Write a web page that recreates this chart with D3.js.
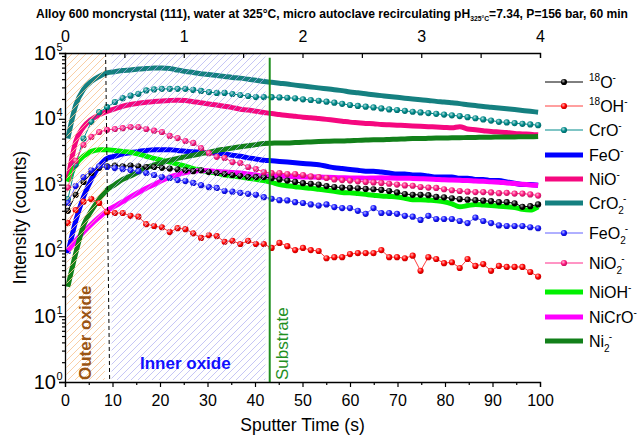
<!DOCTYPE html>
<html><head><meta charset="utf-8">
<script src="https://cdn.jsdelivr.net/npm/d3@7"></script>
<style>
body{margin:0;background:#fff}
svg{display:block}
text{font-family:Arial,"Liberation Sans",sans-serif}
</style>
</head><body>
<svg id="c" width="639" height="441"></svg>
<script>
// ---------------- DATA ----------------
const time = [0.6,2.25,3.9,5.55,7.2,8.85,10.5,12.15,13.8,15.45,17.1,18.75,20.4,22.05,23.7,25.35,27,28.65,30.3,31.95,33.6,35.25,36.9,38.55,40.2,41.85,43.5,45.15,46.8,48.45,50.1,51.75,53.4,55.05,56.7,58.35,60,61.65,63.3,64.95,66.6,68.25,69.9,71.55,73.2,74.85,76.5,78.15,79.8,81.45,83.1,84.75,86.4,88.05,89.7,91.35,93,94.65,96.3,97.95,99.6];

const o18   = [400,700,1100,1500,1800,1900,1950,1900,1950,1900,1850,1850,1800,1750,1700,1650,1600,1650,1550,1500,1450,1400,1350,1300,1300,1300,1250,1200,1150,1100,1050,1030,1000,950,920,900,890,880,860,850,830,800,760,720,700,700,690,650,640,620,600,590,580,570,560,540,540,520,460,470,500];
const oh18  = [260,410,550,600,525,380,370,370,335,325,250,235,225,190,218,210,182,155,170,165,135,140,125,140,125,125,109,130,116,101,109,101,98,76,79,79,88,91,91,91,101,79,79,76,83,49,79,74,64,66,54,74,58,62,49,58,56,56,56,47,40];
const cro   = [600,2000,5000,9000,12600,15000,18000,20600,22500,24000,27000,28000,28500,28500,28500,28500,27500,26500,25500,24700,24700,23800,23000,22200,21400,21400,21300,21100,20900,20500,19800,19300,18800,18200,17600,16900,16200,15700,15300,14900,14400,13900,13600,13200,12800,12500,12200,11900,11600,11300,11000,10600,10200,9800,9400,9000,8800,8600,8400,8200,8000];
const feo   = [90,280,650,1200,1900,2500,2700,2900,3050,3200,3300,3400,3400,3400,3300,3200,3150,3100,3050,3000,2900,2800,2700,2550,2450,2350,2300,2250,2200,2150,2100,2050,2000,1900,1800,1750,1700,1650,1600,1600,1550,1500,1450,1450,1400,1400,1350,1300,1300,1300,1250,1250,1200,1200,1150,1150,1100,1050,1000,1000,980];
const nio   = [1200,4500,7500,9800,11500,13000,14200,15500,16500,17200,17800,18300,18700,19000,19200,19000,18200,17500,16800,16200,15500,14800,14000,13600,13000,12500,12000,11600,11200,10900,10600,10400,10100,9800,9500,9200,8900,8700,8500,8400,8200,8100,8000,7900,7800,7700,7600,7500,7400,7300,7600,7000,6800,6600,6400,6300,6200,6000,5900,5800,5700];
const cro2  = [5000,16000,28000,37000,44000,50000,52000,54000,55000,57000,58000,59000,59000,58000,55000,52500,50500,48500,47000,45500,44000,42500,41500,40000,38500,37000,35800,34700,33700,32500,31500,30500,29500,28600,27700,26800,25500,24800,24000,23200,22500,21800,21200,20600,20000,19500,19000,18400,18000,17500,17000,16400,15900,15400,15000,14600,14200,13800,13400,13000,12600];
const feo2  = [525,950,1300,1650,1900,1850,1780,1720,1660,1600,1500,1400,1300,1260,1170,1130,1060,980,915,890,800,780,750,725,700,645,610,580,575,540,525,500,480,500,455,440,440,400,360,440,370,370,360,335,325,290,335,300,300,300,280,260,315,280,260,240,235,235,235,225,217];
const nio2  = [900,2300,4000,5300,6300,6800,7000,7200,7500,7500,7000,6600,6300,5500,5100,4600,4300,3600,3000,2640,2540,2200,2130,1850,1720,1550,1500,1500,1450,1450,1400,1330,1300,1260,1200,1170,1150,1120,1100,1080,1060,1030,1000,970,960,920,900,890,850,820,800,780,770,770,760,740,750,730,730,710,680];
const nioh  = [1100,2000,2700,3200,3400,3400,3300,3200,3100,2900,2700,2500,2350,2200,2050,1900,1750,1650,1550,1500,1400,1350,1300,1250,1200,1150,1080,1000,960,930,900,880,850,820,790,760,750,730,710,690,670,660,650,620,590,590,580,570,550,510,460,480,500,490,480,470,460,450,420,410,460];
const nicro = [100,140,190,250,320,400,470,550,650,760,880,1000,1150,1300,1420,1520,1600,1640,1620,1580,1550,1530,1500,1450,1400,1350,1350,1350,1330,1320,1310,1300,1300,1290,1280,1270,1260,1260,1250,1260,1270,1260,1250,1250,1240,1230,1220,1200,1180,1170,1160,1150,1130,1120,1100,1090,1060,1040,1010,990,980];
const ni2   = [28,90,240,400,600,830,1000,1200,1350,1550,1800,2000,2150,2350,2500,2650,2800,2950,3100,3300,3450,3600,3750,3900,4050,4200,4250,4300,4300,4350,4400,4450,4500,4550,4600,4600,4650,4700,4750,4800,4800,4850,4900,4950,5000,5000,5050,5100,5100,5150,5150,5200,5200,5250,5250,5300,5300,5300,5350,5350,5400];

const xTickValues   = [0,10,20,30,40,50,60,70,80,90,100];
const xMinorValues  = [5,15,25,35,45,55,65,75,85,95];
const topTickValues = [0,0.5,1,1.5,2,2.5,3,3.5,4];
const topLabels     = [0,1,2,3,4];
const yDecades      = [0,1,2,3,4,5];

// region annotations (sputter time, s)
const outerRange   = [0.3, 8.4];
const innerRange   = [9.8, 42.2];
const interfaceT   = [8.55, 9.4];   // dashed line (top, bottom)
const substrateT   = 43.1;

const titleMain = "Alloy 600 moncrystal (111), water at 325°C, micro autoclave recirculating pH";
const titleSub  = "325°C";
const titleEnd  = "=7.34, P=156 bar, 60 min";

// ---------------- SERIES STYLE ----------------
const series = [
  {values:o18,   kind:"thin",  line:"#000000", mark:"#000000", label:[{t:"18",s:"sup"},{t:"O"},{t:"-",s:"sup"}]},
  {values:oh18,  kind:"thin",  line:"#ff4040", mark:"#ff0000", label:[{t:"18",s:"sup"},{t:"OH"},{t:"-",s:"sup"}]},
  {values:cro,   kind:"thin",  line:"#008b8b", mark:"#008b8b", label:[{t:"CrO"},{t:"-",s:"sup"}]},
  {values:feo,   kind:"thick", line:"#0000ff", label:[{t:"FeO"},{t:"-",s:"sup"}]},
  {values:nio,   kind:"thick", line:"#f5087f", label:[{t:"NiO"},{t:"-",s:"sup"}]},
  {values:cro2,  kind:"thick", line:"#158080", label:[{t:"CrO"},{t:"2",s:"sub"},{t:"-",s:"sup",dx:-1}]},
  {values:feo2,  kind:"thin",  line:"#6060ff", mark:"#1515ff", label:[{t:"FeO"},{t:"2",s:"sub"},{t:"-",s:"sup",dx:-1}]},
  {values:nio2,  kind:"thin",  line:"#ff2a8a", mark:"#ff1a80", label:[{t:"NiO"},{t:"2",s:"sub"},{t:"-",s:"sup",dx:-1}]},
  {values:nioh,  kind:"thick", line:"#00f000", label:[{t:"NiOH"},{t:"-",s:"sup"}]},
  {values:nicro, kind:"thick", line:"#ff00ff", label:[{t:"NiCrO"},{t:"-",s:"sup"}]},
  {values:ni2,   kind:"thick", line:"#12801a", label:[{t:"Ni"},{t:"2",s:"sub"},{t:"-",s:"sup",dx:-1}]}
];
const legendRowY = [82,106,130,155,179,203,233,263,292,317,341];

// ---------------- LAYOUT ----------------
const L=65, R=540, T=53, B=382;
const svg = d3.select("#c");
const x = d3.scaleLinear().domain([0,100]).range([L,R]);
const xTop = d3.scaleLinear().domain([0,4]).range([L,R]);
const y = d3.scaleLog().domain([1,1e5]).range([B,T]);

const defs = svg.append("defs");
function hatch(id, color){
  const p = defs.append("pattern").attr("id",id).attr("patternUnits","userSpaceOnUse")
    .attr("width",7).attr("height",7);
  p.append("path").attr("d","M-1,8 L8,-1 M-1,1 L1,-1 M6,8 L8,6")
    .attr("stroke",color).attr("stroke-width",1).attr("fill","none");
}
hatch("hOuter","#f8c596");
hatch("hInner","#aeaef0");

function sphere(id,color){
  const g = defs.append("radialGradient").attr("id",id).attr("cx","38%").attr("cy","35%").attr("r","65%");
  g.append("stop").attr("offset","0%").attr("stop-color",d3.interpolateRgb(color,"#ffffff")(0.7));
  g.append("stop").attr("offset","55%").attr("stop-color",color);
  g.append("stop").attr("offset","100%").attr("stop-color",d3.interpolateRgb(color,"#000000")(0.25));
}
series.forEach((s,i)=>{ if(s.kind==="thin") sphere("sp"+i, s.mark); });

// ---------------- CURVES ----------------
const gCurves = svg.append("g");
const thickLine = d3.line().x(d=>x(d[0])).y(d=>y(d[1])).curve(d3.curveMonotoneX);
const thinLine  = d3.line().x(d=>x(d[0])).y(d=>y(d[1]));

series.forEach((s,i)=>{
  if(s.kind!=="thick") return;
  const pts = time.map((t,k)=>[t,s.values[k]]);
  gCurves.append("path").attr("d",thickLine(pts)).attr("fill","none")
    .attr("stroke",s.line).attr("stroke-width",5).attr("stroke-linejoin","round");
});
series.forEach((s,i)=>{
  if(s.kind!=="thin") return;
  const pts = time.map((t,k)=>[t,s.values[k]]);
  gCurves.append("path").attr("d",thinLine(pts)).attr("fill","none")
    .attr("stroke",s.line).attr("stroke-width",1);
  gCurves.append("g").selectAll("circle").data(pts).join("circle")
    .attr("cx",d=>x(d[0])).attr("cy",d=>y(d[1])).attr("r",3.1)
    .attr("fill","url(#sp"+i+")");
});

// ---------------- REGIONS ----------------
svg.append("rect").attr("x",x(outerRange[0])).attr("y",T).attr("width",x(outerRange[1])-x(outerRange[0]))
  .attr("height",B-2-T).attr("fill","url(#hOuter)").attr("opacity",0.85);
svg.append("rect").attr("x",x(innerRange[0])).attr("y",T).attr("width",x(innerRange[1])-x(innerRange[0]))
  .attr("height",B-2-T).attr("fill","url(#hInner)").attr("opacity",0.7);
svg.append("line").attr("x1",x(interfaceT[0])).attr("y1",T).attr("x2",x(interfaceT[1])).attr("y2",B)
  .attr("stroke","#000").attr("stroke-width",1).attr("stroke-dasharray","4,3");
svg.append("line").attr("x1",x(substrateT)).attr("x2",x(substrateT)).attr("y1",y(8.5e4)).attr("y2",B)
  .attr("stroke","#1f8f1f").attr("stroke-width",2);

svg.append("text").attr("transform",`translate(91,380) rotate(-90)`)
  .attr("font-size",17).attr("font-weight","bold").attr("fill","#9a5514").text("Outer oxide");
svg.append("text").attr("x",140).attr("y",369)
  .attr("font-size",17).attr("font-weight","bold").attr("fill","#1010ff").text("Inner oxide");
svg.append("text").attr("transform",`translate(288,380) rotate(-90)`)
  .attr("font-size",17).attr("fill","#1f8f1f").text("Substrate");

// ---------------- AXES ----------------
const axStyle = g=>{ g.select(".domain").attr("stroke","#000").attr("stroke-width",1.3);
  g.selectAll(".tick line").attr("stroke","#000").attr("stroke-width",1.2);
  g.selectAll("text").attr("font-family","Arial, 'Liberation Sans', sans-serif").attr("fill","#000"); };

const gx = svg.append("g").attr("transform",`translate(0,${B})`)
  .call(d3.axisBottom(x).tickValues(xTickValues).tickSize(5).tickPadding(7.5).tickFormat(d3.format("d")))
  .call(axStyle);
gx.selectAll("text").attr("font-size",16);
svg.append("g").attr("transform",`translate(0,${B})`)
  .call(d3.axisBottom(x).tickValues(xMinorValues).tickSize(3).tickFormat(""))
  .call(axStyle).select(".domain").remove();

const gt = svg.append("g").attr("transform",`translate(0,${T})`)
  .call(d3.axisTop(xTop).tickValues(topTickValues).tickSize(-5).tickPadding(11)
    .tickFormat(d=> topLabels.includes(d) ? d : ""))
  .call(axStyle);
gt.selectAll("text").attr("font-size",16);

const yMinor = [];
yDecades.slice(0,-1).forEach(d=>{ for(let m=2;m<=9;m++) yMinor.push(m*Math.pow(10,d)); });
svg.append("g").attr("transform",`translate(${L},0)`)
  .call(d3.axisLeft(y).tickValues(yDecades.map(d=>Math.pow(10,d))).tickSize(6).tickFormat(""))
  .call(axStyle);
svg.append("g").attr("transform",`translate(${L},0)`)
  .call(d3.axisLeft(y).tickValues(yMinor).tickSize(3).tickFormat(""))
  .call(axStyle).select(".domain").remove();

const gyl = svg.append("g");
yDecades.forEach(d=>{
  const yy = y(Math.pow(10,d));
  gyl.append("text").attr("x",56).attr("y",yy+6.5).attr("text-anchor","end").attr("font-size",20).text("10");
  gyl.append("text").attr("x",56.5).attr("y",yy-2.5).attr("font-size",11).text(d);
});

svg.append("text").attr("transform",`translate(26,${(T+B)/2}) rotate(-90)`).attr("text-anchor","middle")
  .attr("font-size",17.5).text("Intensity (counts)");
svg.append("text").attr("x",(L+R)/2).attr("y",431).attr("text-anchor","middle")
  .attr("font-size",17.5).text("Sputter Time (s)");

// ---------------- TITLE ----------------
const tt = svg.append("text").attr("x",36).attr("y",18).attr("font-size",12.5).attr("font-weight","bold")
  .attr("textLength",592).attr("lengthAdjust","spacingAndGlyphs");
tt.append("tspan").text(titleMain);
tt.append("tspan").attr("dy",3).attr("font-size",7).text(titleSub);
tt.append("tspan").attr("dy",-3).text(titleEnd);

// ---------------- LEGEND ----------------
function rich(sel, parts, size){
  let cur=0;
  parts.forEach(p=>{
    const off = p.s==="sup" ? -0.42*size : p.s==="sub" ? 0.32*size : 0;
    const ts = sel.append("tspan").attr("dy",off-cur).text(p.t)
      .attr("font-size", p.s ? Math.round(size*0.65) : size);
    if(p.dx) ts.attr("dx",p.dx);
    cur=off;
  });
}
const gl = svg.append("g");
series.forEach((s,i)=>{
  const yy = legendRowY[i];
  gl.append("line").attr("x1",545).attr("x2",583).attr("y1",yy).attr("y2",yy)
    .attr("stroke",s.line).attr("stroke-width", s.kind==="thick"?5:1);
  if(s.kind==="thin") gl.append("circle").attr("cx",564).attr("cy",yy).attr("r",3.1).attr("fill","url(#sp"+i+")");
  const t = gl.append("text").attr("x",589).attr("y",yy+6).attr("font-size",16);
  rich(t, s.label, 16);
});
</script>
</body></html>
